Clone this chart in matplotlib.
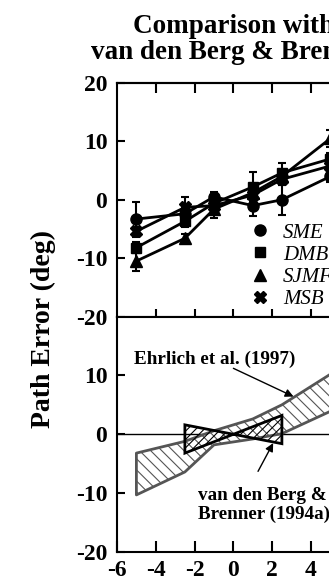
import matplotlib
matplotlib.use("Agg")
import matplotlib.pyplot as plt
from matplotlib.lines import Line2D

# heading direction offsets (deg) and per-subject mean path errors (deg)
heading = [-5, -2.5, -1, 1, 2.5, 5]
sme = [-3.3, -2.4, 0.5, -1.0, 0.0, 4.0]
dmb = [-8.2, -3.7, -0.6, 2.2, 4.6, 7.0]
sjmf = [-10.5, -6.6, -1.6, 1.2, 4.0, 10.5]
msb = [-5.4, -1.3, -1.0, 0.8, 3.5, 5.8]
sme_err = [3.0, 1.0, 0.8, 1.8, 2.6, 1.0]
dmb_err = [1.0, 1.0, 0.8, 2.6, 1.7, 1.0]
sjmf_err = [1.7, 0.8, 1.5, 0.8, 1.0, 1.5]
msb_err = [0.8, 1.8, 0.8, 0.8, 1.0, 0.8]
subjects = ["SME", "DMB", "SJMF", "MSB"]

# Ehrlich et al. (1997) band and van den Berg & Brenner (1994a) bow-tie
ehrlich_x = [-5, -2.5, -1, 1, 2.5, 5]
ehrlich_hi = [-3.2, -1.2, 0.6, 2.6, 5.0, 10.2]
ehrlich_lo = [-10.3, -6.4, -1.8, -0.8, 0.1, 3.9]
vdb_x = [-2.5, 2.5]
vdb_hi = [1.6, 3.2]
vdb_lo = [-3.2, -1.6]

plt.rcParams["font.family"] = ["Liberation Serif", "DejaVu Serif"]
plt.rcParams["axes.unicode_minus"] = False
plt.rcParams["hatch.linewidth"] = 0.8

fig = plt.figure(figsize=(3.29, 5.87), dpi=100)
ax1 = fig.add_axes([0.3556, 0.4608, 0.7076, 0.3978])
ax2 = fig.add_axes([0.3556, 0.0596, 0.7076, 0.4012])

markers = [("o", 8), ("s", 7.5), ("^", 8), ("X", 8.5)]
handles = []
for vals, err, (mk, ms), name in zip([sme, dmb, sjmf, msb],
                                     [sme_err, dmb_err, sjmf_err, msb_err],
                                     markers, subjects):
    ax1.errorbar(heading, vals, yerr=err, color="black", lw=2, marker=mk,
                 ms=ms, elinewidth=1.5, capsize=3, capthick=1.5)
    handles.append(Line2D([], [], color="black", marker=mk, ms=ms,
                          linestyle="none", label=name))

ax1.set_xlim(-6, 6)
ax1.set_ylim(-20, 20)
ax1.set_yticks([20, 10, 0, -10, -20])
ax1.set_xticks([-4, -2, 0, 2, 4])
# bottom ticks cross the shared line, top ticks point inward
ax1.tick_params(axis="x", bottom=True, top=False, labelbottom=False,
                direction="inout", length=12, width=1.5)
top = ax1.secondary_xaxis("top")
top.set_xticks([-4, -2, 0, 2, 4])
top.tick_params(direction="in", length=7, width=1.5, labeltop=False)
top.spines["top"].set_linewidth(1.5)
ax1.tick_params(axis="y", direction="in", length=6, width=1.5, labelsize=17, pad=7)
for lab in ax1.get_yticklabels():
    lab.set_fontweight("bold")
for sp in ax1.spines.values():
    sp.set_linewidth(1.5)

ax1.legend(handles=handles, loc="upper left", bbox_to_anchor=(0.57, 0.40),
           frameon=False, borderpad=0, borderaxespad=0, handlelength=1.0,
           handletextpad=0.6, labelspacing=0.12,
           prop={"style": "italic", "size": 15})

ax1.set_title("Comparison with\nvan den Berg & Brenner", fontsize=19.5,
              fontweight="bold", pad=17, linespacing=1.05)

# bottom panel
ax2.axhline(0, color="black", lw=1)
ax2.fill_between(ehrlich_x, ehrlich_lo, ehrlich_hi, facecolor="white",
                 edgecolor="#555555", hatch="\\\\\\", lw=2, zorder=2)
bow_x = [vdb_x[0], vdb_x[1], vdb_x[1], vdb_x[0]]
bow_y = [vdb_hi[0], vdb_lo[1], vdb_hi[1], vdb_lo[0]]
ax2.fill(bow_x, bow_y, facecolor="none", edgecolor="black", hatch="////",
         lw=2, zorder=3)

arrow = dict(arrowstyle="-|>", color="black", lw=1, shrinkA=0, shrinkB=0,
             mutation_scale=12)
ax2.text(-5.1, 12.8, "Ehrlich et al. (1997)", fontsize=13.8, fontweight="bold",
         ha="left", va="center")
ax2.annotate("", xy=(3.1, 6.4), xytext=(0.0, 11.2), arrowprops=arrow)
ax2.text(-1.8, -12.0, "van den Berg &\nBrenner (1994a)", fontsize=13.8,
         fontweight="bold", ha="left", va="center", linespacing=1.1)
ax2.annotate("", xy=(2.05, -1.5), xytext=(1.27, -6.3), arrowprops=arrow)

ax2.set_xlim(-6, 6)
ax2.set_ylim(-20, 20)
ax2.set_yticks([10, 0, -10, -20])
ax2.set_xticks([-6, -4, -2, 0, 2, 4, 6])
ax2.tick_params(axis="both", direction="in", length=6, width=1.5, labelsize=17, pad=7)
ax2.tick_params(axis="x", length=8, pad=6)
for lab in ax2.get_yticklabels() + ax2.get_xticklabels():
    lab.set_fontweight("bold")
for sp in ax2.spines.values():
    sp.set_linewidth(1.5)

fig.text(43 / 329, 1 - 329 / 587, "Path Error (deg)", rotation=90, ha="center",
         va="center", fontsize=20, fontweight="bold")

fig.savefig("out.png", dpi=100)
